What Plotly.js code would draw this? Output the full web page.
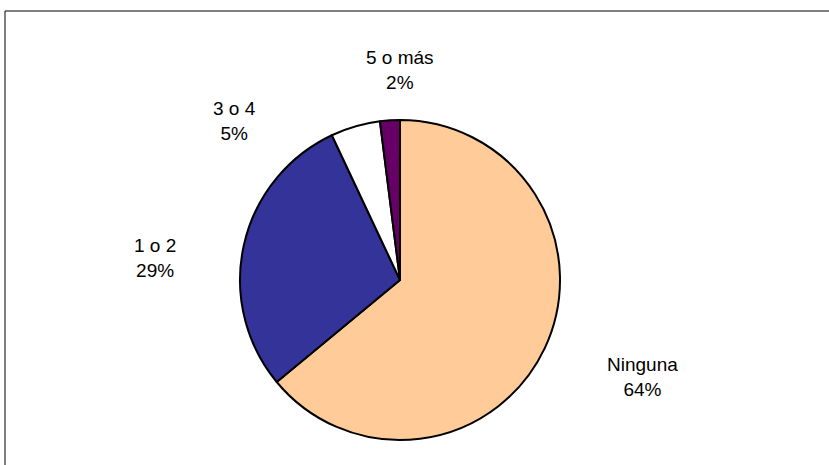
<!DOCTYPE html>
<html>
<head>
<meta charset="utf-8">
<script src="https://cdn.plot.ly/plotly-3.0.1.min.js"></script>
<style>
  html, body { margin: 0; padding: 0; background: #fff; }
  #chart { width: 829px; height: 465px; }
</style>
</head>
<body>
<div id="chart"></div>
<script>
// Number of items per household
const categories = ["Ninguna", "1 o 2", "3 o 4", "5 o más"];
const shares = [64, 29, 5, 2];
const sliceColors = ["#FFCC99", "#333399", "#FFFFFF", "#660066"];

// Label block centres in pixels (x, y from top)
const labelPos = [[642, 377], [155, 258], [234, 121], [400, 70]];

const W = 829, H = 465;
const total = shares.reduce((a, b) => a + b, 0);

const trace = {
  type: "pie",
  labels: categories,
  values: shares,
  sort: false,
  direction: "clockwise",
  rotation: 0,
  textinfo: "none",
  hoverinfo: "label+percent",
  showlegend: false,
  marker: { colors: sliceColors, line: { color: "#000000", width: 2 } },
  domain: { x: [240 / W, 560 / W], y: [(H - 440) / H, (H - 120) / H] }
};

const annotations = categories.map((c, i) => ({
  text: c + "<br>" + Math.round(shares[i] / total * 100) + "%",
  xref: "paper", yref: "paper",
  x: labelPos[i][0] / W, y: 1 - labelPos[i][1] / H,
  xanchor: "center", yanchor: "middle",
  showarrow: false,
  font: { family: "Liberation Sans, Arial, sans-serif", size: 19, color: "#000" }
}));

const layout = {
  width: W, height: H,
  margin: { l: 0, r: 0, t: 0, b: 0 },
  paper_bgcolor: "#ffffff",
  annotations: annotations,
  shapes: [{
    type: "rect", xref: "paper", yref: "paper",
    x0: 5 / W, x1: 1.02, y0: -0.02, y1: 1 - 11 / H,
    line: { color: "#000000", width: 1 }, fillcolor: "rgba(0,0,0,0)"
  }]
};

Plotly.newPlot("chart", [trace], layout, { displayModeBar: false, staticPlot: true });
</script>
</body>
</html>
